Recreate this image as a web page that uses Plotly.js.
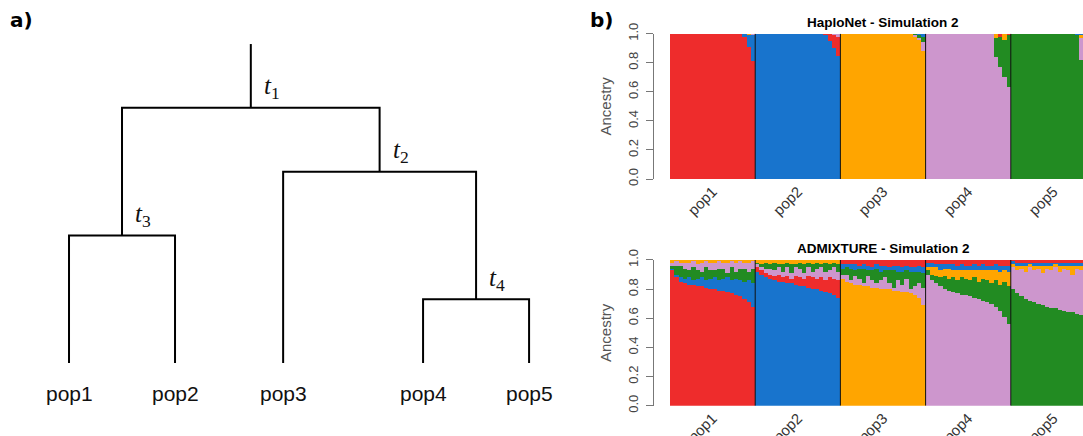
<!DOCTYPE html>
<html><head><meta charset="utf-8">
<script src="https://cdn.plot.ly/plotly-3.0.1.min.js"></script>
<style>html,body{margin:0;padding:0;background:#fff;}#chart{width:1083px;height:436px;}</style>
</head><body><div id="chart"></div>
<script>
// ---------- panel a) : population tree ----------
const leafNames = ['pop1','pop2','pop3','pop4','pop5'];
const leafX = [0, 1, 2.02, 3.34, 4.34];
const nodeNames = ['t4','t3','t2','t1'];
const nodeHeights = [1, 2, 3, 4];
const nodeChildren = [['pop4','pop5'],['pop1','pop2'],['pop3','t4'],['t3','t2']];
const rootTop = 5;

// ---------- panel b) : ancestry proportions ----------
const popNames = ['pop1','pop2','pop3','pop4','pop5'];
const N = 20; // individuals shown per population
const compColors = ['#EE2C2C','#1874CD','#FFA500','#CD96CD','#228B22']; // red, blue, orange, pink, green
const ticks01 = [0, 0.2, 0.4, 0.6, 0.8, 1.0];
const tickText01 = ['0.0','0.2','0.4','0.6','0.8','1.0'];

// HaploNet - Simulation 2 (component order: red, blue, orange, pink, green)
const H_red = [
1,1,1,1,1,1,1,1,1,1,1,1,1,1,1,1,1,0.98,0.91,0.81,
0,0,0,0,0,0,0,0,0,0,0,0,0,0,0,0,0.01,0.05,0.09,0.13,
0,0,0,0,0,0,0,0,0,0,0,0,0,0,0,0,0,0,0,0,
0,0,0,0,0,0,0,0,0,0,0,0,0,0,0,0,0,0.02,0,0.01,
0,0,0,0,0,0,0,0,0,0,0,0,0,0,0,0,0,0,0,0];
const H_blue = [
0,0,0,0,0,0,0,0,0,0,0,0,0,0,0,0,0,0.02,0.08,0.18,
1,1,1,1,1,1,1,1,1,1,1,1,1,1,1,1,0.99,0.95,0.90,0.85,
0,0,0,0,0,0,0,0,0,0,0,0,0,0,0,0,0,0,0.01,0.02,
0,0,0,0,0,0,0,0,0,0,0,0,0,0,0,0,0,0,0,0,
0,0,0,0,0,0,0,0,0,0,0,0,0,0,0,0.01,0.01,0,0,0];
const H_orange = [
0,0,0,0,0,0,0,0,0,0,0,0,0,0,0,0,0,0,0.01,0,
0,0,0,0,0,0,0,0,0,0,0,0,0,0,0,0,0,0,0,0,
1,1,1,1,1,1,1,1,1,1,1,1,1,1,1,1,1,0.98,0.96,0.88,
0,0,0,0,0,0,0,0,0,0,0,0,0,0,0,0,0.03,0,0.04,0,
0,0,0,0,0,0,0,0,0,0,0,0,0,0,0,0,0.02,0.01,0.01,0.01];
const H_pink = [
0,0,0,0,0,0,0,0,0,0,0,0,0,0,0,0,0,0,0,0.01,
0,0,0,0,0,0,0,0,0,0,0,0,0,0,0,0,0,0,0.01,0.02,
0,0,0,0,0,0,0,0,0,0,0,0,0,0,0,0,0,0.01,0.01,0.06,
1,1,1,1,1,1,1,1,1,1,1,1,1,1,1,1,0.84,0.77,0.70,0.63,
0,0,0,0,0,0,0,0,0,0,0,0,0,0,0,0,0.15,0.21,0.25,0.31];
const H_green = [
0,0,0,0,0,0,0,0,0,0,0,0,0,0,0,0,0,0,0,0,
0,0,0,0,0,0,0,0,0,0,0,0,0,0,0,0,0,0,0,0,
0,0,0,0,0,0,0,0,0,0,0,0,0,0,0,0,0,0.01,0.02,0.04,
0,0,0,0,0,0,0,0,0,0,0,0,0,0,0,0,0.13,0.21,0.26,0.36,
1,1,1,1,1,1,1,1,1,1,1,1,1,1,1,0.99,0.82,0.78,0.74,0.68];

// ADMIXTURE - Simulation 2
const A_red = [
0.93,0.88,0.85,0.84,0.83,0.83,0.82,0.82,0.81,0.80,0.80,0.79,0.79,0.78,0.77,0.76,0.75,0.73,0.71,0.68,
0.03,0.03,0.03,0.03,0.03,0.05,0.03,0.05,0.03,0.06,0.06,0.05,0.08,0.08,0.07,0.09,0.08,0.11,0.11,0.12,
0.03,0.03,0.03,0.03,0.04,0.03,0.04,0.05,0.03,0.04,0.04,0.05,0.04,0.04,0.05,0.04,0.05,0.05,0.04,0.05,
0.02,0.02,0.03,0.03,0.03,0.03,0.03,0.04,0.03,0.04,0.04,0.03,0.04,0.03,0.04,0.04,0.03,0.04,0.04,0.04,
0.01,0.02,0.02,0.02,0.02,0.02,0.02,0.02,0.02,0.02,0.02,0.02,0.02,0.02,0.02,0.02,0.02,0.02,0.02,0.02];
const A_blue = [
0.01,0.02,0.03,0.03,0.05,0.03,0.05,0.06,0.05,0.07,0.08,0.07,0.08,0.10,0.09,0.11,0.11,0.12,0.15,0.16,
0.92,0.90,0.88,0.87,0.86,0.85,0.85,0.84,0.84,0.83,0.82,0.82,0.81,0.80,0.80,0.79,0.78,0.77,0.76,0.74,
0.03,0.02,0.03,0.04,0.02,0.03,0.03,0.02,0.03,0.04,0.03,0.02,0.03,0.04,0.03,0.03,0.03,0.03,0.04,0.04,
0.03,0.03,0.02,0.04,0.03,0.03,0.04,0.03,0.04,0.03,0.03,0.04,0.03,0.04,0.03,0.03,0.04,0.04,0.03,0.04,
0.02,0.02,0.02,0.02,0.01,0.02,0.02,0.02,0.02,0.02,0.01,0.02,0.02,0.02,0.02,0.02,0.02,0.01,0.02,0.02];
const A_orange = [
0.02,0.01,0.02,0.02,0.02,0.01,0.03,0.02,0.01,0.02,0.02,0.01,0.02,0.02,0.01,0.02,0.01,0.02,0.02,0.01,
0.02,0.03,0.02,0.03,0.02,0.03,0.03,0.02,0.03,0.03,0.02,0.03,0.02,0.03,0.02,0.03,0.02,0.03,0.02,0.03,
0.87,0.85,0.84,0.83,0.83,0.82,0.82,0.81,0.81,0.80,0.80,0.80,0.79,0.79,0.78,0.78,0.77,0.76,0.74,0.69,
0.02,0.05,0.06,0.05,0.05,0.07,0.05,0.07,0.05,0.06,0.07,0.05,0.08,0.06,0.07,0.09,0.07,0.09,0.08,0.10,
0.02,0.03,0.02,0.04,0.02,0.03,0.02,0.05,0.02,0.03,0.02,0.04,0.02,0.03,0.06,0.02,0.03,0.02,0.04,0.03];
const A_pink = [
0.02,0.03,0.02,0.04,0.05,0.04,0.04,0.06,0.04,0.05,0.05,0.05,0.04,0.07,0.04,0.06,0.05,0.04,0.06,0.05,
0.02,0.02,0.03,0.04,0.04,0.05,0.04,0.06,0.04,0.06,0.06,0.04,0.06,0.04,0.07,0.07,0.06,0.05,0.08,0.06,
0.03,0.05,0.02,0.06,0.04,0.02,0.07,0.05,0.03,0.06,0.08,0.04,0.02,0.07,0.05,0.09,0.03,0.06,0.10,0.12,
0.90,0.86,0.84,0.82,0.80,0.79,0.78,0.77,0.76,0.76,0.75,0.74,0.73,0.72,0.71,0.70,0.68,0.65,0.61,0.56,
0.15,0.16,0.19,0.19,0.23,0.22,0.24,0.22,0.26,0.26,0.28,0.26,0.29,0.29,0.26,0.31,0.31,0.34,0.32,0.34];
const A_green = [
0.02,0.06,0.08,0.07,0.05,0.09,0.06,0.04,0.09,0.06,0.05,0.08,0.07,0.03,0.09,0.05,0.08,0.09,0.06,0.10,
0.01,0.02,0.04,0.03,0.05,0.02,0.05,0.03,0.06,0.02,0.04,0.06,0.03,0.05,0.04,0.02,0.06,0.04,0.03,0.05,
0.04,0.05,0.08,0.04,0.07,0.10,0.04,0.07,0.10,0.06,0.05,0.09,0.12,0.06,0.09,0.06,0.12,0.10,0.08,0.10,
0.03,0.04,0.05,0.06,0.09,0.08,0.10,0.09,0.12,0.11,0.11,0.14,0.12,0.15,0.15,0.14,0.18,0.18,0.24,0.26,
0.80,0.77,0.75,0.73,0.72,0.71,0.70,0.69,0.68,0.67,0.67,0.66,0.65,0.64,0.64,0.63,0.62,0.61,0.60,0.59];

// stacking order (bottom to top) of components within each population
const stackOrder = [[0,1,4,3,2],[1,0,3,4,2],[2,3,4,1,0],[3,4,2,1,0],[4,3,2,1,0]];

// ---------- build traces ----------
const traces = [];
function addPanel(arrs, xa, ya){
  for (let j = 0; j < 5; j++) {
    for (let p = 0; p < popNames.length; p++) {
      const k = stackOrder[p][j];
      const xs = [], ys = [];
      for (let i = 0; i < N; i++) { xs.push(p*N + i); ys.push(arrs[k][p*N + i]); }
      traces.push({type:'bar', x:xs, y:ys, xaxis:xa, yaxis:ya, width:1,
        marker:{color:compColors[k], line:{width:0}}, hoverinfo:'skip', showlegend:false});
    }
  }
}
addPanel([H_red,H_blue,H_orange,H_pink,H_green], 'x', 'y');
addPanel([A_red,A_blue,A_orange,A_pink,A_green], 'x2', 'y2');

// tree
const pos = {};
leafNames.forEach((n,i) => { pos[n] = {x: leafX[i], h: 0}; });
const tx = [], ty = [];
nodeNames.forEach((n,i) => {
  const [l, r] = nodeChildren[i];
  const h = nodeHeights[i];
  pos[n] = {x: (pos[l].x + pos[r].x)/2, h: h};
  tx.push(pos[l].x, pos[l].x, pos[r].x, pos[r].x, null);
  ty.push(pos[l].h, h, h, pos[r].h, null);
});
const rootName = nodeNames[nodeNames.length-1];
tx.push(pos[rootName].x, pos[rootName].x);
ty.push(pos[rootName].h, rootTop);
traces.push({type:'scatter', mode:'lines', x:tx, y:ty, xaxis:'x3', yaxis:'y3',
  line:{color:'#000', width:2}, hoverinfo:'skip', showlegend:false});

// ---------- annotations & shapes ----------
const annotations = [];
const shapes = [];
leafNames.forEach((n,i) => annotations.push({xref:'x3', yref:'y3', x:leafX[i], y:0, yshift:-30,
  text:n, showarrow:false, xanchor:'center', yanchor:'middle',
  font:{family:'Liberation Sans, Arial, sans-serif', size:21, color:'#111'}}));
nodeNames.forEach((n,i) => annotations.push({xref:'x3', yref:'y3', x:pos[n].x, y:nodeHeights[i],
  xshift:21, yshift:20, text:'<i>t</i><sub>' + n.slice(1) + '</sub>', showarrow:false,
  xanchor:'center', yanchor:'middle', font:{family:'Liberation Serif, serif', size:25, color:'#111'}}));
annotations.push({xref:'paper', yref:'paper', x:8/1083, y:0.954, xanchor:'left', yanchor:'middle',
  text:'<b>a)</b>', showarrow:false, font:{family:'DejaVu Sans, sans-serif', size:20, color:'#000'}});
annotations.push({xref:'paper', yref:'paper', x:588/1083, y:0.954, xanchor:'left', yanchor:'middle',
  text:'<b>b)</b>', showarrow:false, font:{family:'DejaVu Sans, sans-serif', size:20, color:'#000'}});
const center = (popNames.length*N - 1)/2;
annotations.push({xref:'x', yref:'paper', x:center, y:0.948, xanchor:'center', yanchor:'middle',
  text:'<b>HaploNet - Simulation 2</b>', showarrow:false, font:{family:'Liberation Sans, Arial, sans-serif', size:13.5, color:'#000'}});
annotations.push({xref:'x2', yref:'paper', x:center, y:0.429, xanchor:'center', yanchor:'middle',
  text:'<b>ADMIXTURE - Simulation 2</b>', showarrow:false, font:{family:'Liberation Sans, Arial, sans-serif', size:13.5, color:'#000'}});
for (const [xa, ya] of [['x','y'],['x2','y2']]) {
  for (let p = 1; p < popNames.length; p++) {
    shapes.push({type:'line', xref:xa, yref:ya, x0:p*N-0.5, x1:p*N-0.5, y0:0, y1:1,
      line:{color:'#111', width:1}});
  }
}

const popTicks = popNames.map((_,p) => p*N + (N-1)/2);
const xRange = [-0.5, 96.45];
function barX(dom, anchor){
  return {domain:dom, range:xRange, anchor:anchor, tickmode:'array', tickvals:popTicks, ticktext:popNames,
    tickangle:-45, ticks:'', showline:false, showgrid:false, zeroline:false, automargin:false,
    tickfont:{family:'Liberation Sans, Arial, sans-serif', size:15, color:'#333'}, fixedrange:true};
}
function barY(dom){
  return {domain:dom, range:[0,1], anchor:'free', position:653/1083, tickmode:'array', tickvals:ticks01,
    ticktext:tickText01, tickangle:-90, ticks:'outside', ticklen:7, tickcolor:'#777', showline:true,
    linecolor:'#777', linewidth:1, showgrid:false, zeroline:false, automargin:false, ticklabelstandoff:3,
    tickfont:{family:'Liberation Sans, Arial, sans-serif', size:13, color:'#444'},
    title:{text:'Ancestry', font:{family:'Liberation Sans, Arial, sans-serif', size:15, color:'#555'}, standoff:9}};
}
const xd = [670/1083, 1];
const layout = {
  width:1083, height:436, margin:{l:0, r:0, t:0, b:0}, paper_bgcolor:'#fff', plot_bgcolor:'rgba(0,0,0,0)',
  barmode:'stack', bargap:0, showlegend:false,
  xaxis: barX(xd, 'y'), yaxis: barY([0.5894, 0.9227]),
  xaxis2: barX(xd, 'y2'), yaxis2: barY([0.0695, 0.4037]),
  xaxis3: {domain:[0, 540/1083], range:[-0.651, 4.443], visible:false, anchor:'y3', fixedrange:true},
  yaxis3: {domain:[0.1674, 0.899], range:[0, 5], visible:false, anchor:'x3', fixedrange:true},
  annotations: annotations, shapes: shapes
};
Plotly.newPlot('chart', traces, layout, {displayModeBar:false, staticPlot:true});
</script>
</body></html>
